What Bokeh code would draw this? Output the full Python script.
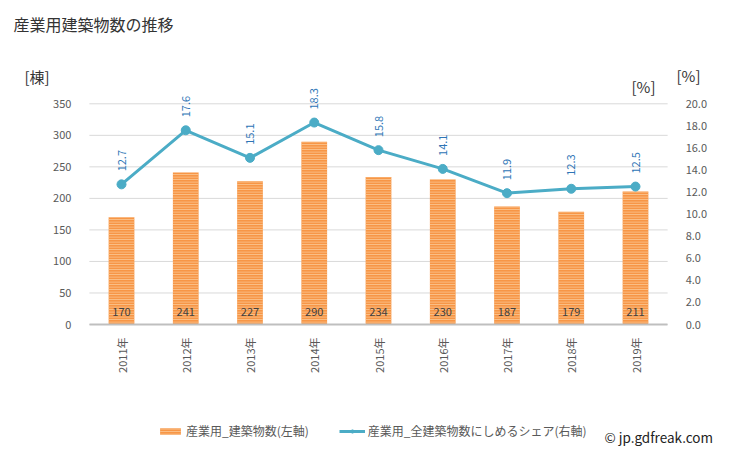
import math
from bokeh.plotting import figure
from bokeh.models import (ColumnDataSource, Range1d, LinearAxis, Label, Legend, LegendItem,
                          FixedTicker, NumeralTickFormatter)
from bokeh.core.properties import value
from bokeh.embed import file_html
from bokeh.resources import INLINE

years = ["2011年", "2012年", "2013年", "2014年", "2015年", "2016年", "2017年", "2018年", "2019年"]
buildings = [170, 241, 227, 290, 234, 230, 187, 179, 211]
share = [12.7, 17.6, 15.1, 18.3, 15.8, 14.1, 11.9, 12.3, 12.5]
left_ticks = [0, 50, 100, 150, 200, 250, 300, 350]
right_ticks = [0, 2, 4, 6, 8, 10, 12, 14, 16, 18, 20]

FONT = "Noto Sans CJK JP"
GRAY = "#595959"
LINE = "#4BACC6"
LBL = "#2E75B6"

W, H = 729, 450
# frame covers the whole canvas; the plotting area spans x 89..667, y 103..324 px
PX = 64.25                      # px per category
X0 = -121 / PX                  # range start so that category 0 sits at 121 px
PY = 220.7 / 350                # px per building
PR = 220.7 / 20                 # px per percent
Y0 = 324                        # pixel row of the zero line

xs = list(range(len(years)))
src = ColumnDataSource(dict(
    x=xs, b=buildings, s=share,
    bl=[str(v) for v in buildings],
    sl=[f"{v:.1f}" for v in share],
))

p = figure(width=W, height=H,
           x_range=Range1d(X0, X0 + W / PX),
           y_range=Range1d(-(H - Y0) / PY, Y0 / PY),
           output_backend="svg", toolbar_location=None,
           x_axis_location=None, y_axis_location=None,
           min_border=0, min_border_left=0, min_border_right=0,
           min_border_top=0, min_border_bottom=0)
p.outline_line_color = None
p.background_fill_color = "white"
p.border_fill_color = "white"
p.grid.visible = False
p.extra_y_ranges = {"pct": Range1d(-(H - Y0) / PR, Y0 / PR)}

# grid lines at the left-axis ticks, spanning the plot area only
p.segment(x0=[-0.5] * len(left_ticks), x1=[8.5] * len(left_ticks), y0=left_ticks, y1=left_ticks,
          line_color="#D9D9D9", line_width=1)

bars = p.vbar(x="x", top="b", width=0.4, source=src, fill_color="#F79646", line_color=None,
              hatch_pattern="horizontal_line", hatch_color="#FBC794", hatch_scale=2.5, hatch_weight=1)
p.text(x="x", y=20, text="bl", source=src, text_align="center", text_baseline="middle",
       text_font=value(FONT), text_font_size="11px", text_color="#404040")

ln = p.line(x="x", y="s", source=src, y_range_name="pct", line_color=LINE, line_width=3)
mk = p.scatter(x="x", y="s", source=src, y_range_name="pct", size=9, fill_color=LINE, line_color=LINE)
p.text(x="x", y="s", text="sl", source=src, y_range_name="pct", angle=math.pi / 2,
       y_offset=-13, text_align="left", text_baseline="middle", text_font=value(FONT),
       text_font_size="11px", text_color=LBL)

# axes (fixed inside the frame)
la = LinearAxis(fixed_location=-0.5, ticker=FixedTicker(ticks=left_ticks), bounds=(0, 350))
ra = LinearAxis(y_range_name="pct", fixed_location=8.5, ticker=FixedTicker(ticks=right_ticks),
                formatter=NumeralTickFormatter(format="0.0"), bounds=(0, 20))
for a in (la, ra):
    a.axis_line_color = None
    a.major_tick_line_color = None
    a.minor_tick_line_color = None
    a.major_label_text_font = FONT
    a.major_label_text_font_size = "11px"
    a.major_label_text_color = GRAY
    a.major_label_standoff = 12
p.add_layout(la, "left")
p.add_layout(ra, "right")

xa = LinearAxis(fixed_location=0, ticker=FixedTicker(ticks=xs), bounds=(-0.5, 8.5),
                major_label_overrides={i: y for i, y in enumerate(years)})
xa.axis_line_color = "#BFBFBF"
xa.axis_line_width = 2
xa.major_tick_line_color = None
xa.minor_tick_line_color = None
xa.major_label_orientation = math.pi / 2
xa.major_label_text_font = FONT
xa.major_label_text_font_size = "11px"
xa.major_label_text_color = GRAY
xa.major_label_standoff = 7
p.add_layout(xa, "below")

# free texts (screen units: from the canvas bottom-left)
def lab(txt, cx, cy, size, color="#333333"):
    p.add_layout(Label(x=cx, y=H - cy, x_units="screen", y_units="screen", text=txt,
                       text_font=FONT, text_font_size=size, text_color=color,
                       text_align="left", text_baseline="middle"))

lab("産業用建築物数の推移", 13, 23, "16px")
lab("[棟]", 24, 76, "15px")
lab("[%]", 631, 86, "15px")
lab("[%]", 676, 75, "15px")
lab("© jp.gdfreak.com", 604, 436, "13.5px", color="#222222")

legend = Legend(items=[LegendItem(label="産業用_建築物数(左軸)", renderers=[bars]),
                       LegendItem(label="産業用_全建築物数にしめるシェア(右軸)", renderers=[ln, mk])],
                orientation="horizontal", location=(157, 11),
                label_text_font=FONT, label_text_font_size="12px", label_text_color=GRAY,
                border_line_color=None, background_fill_alpha=0, spacing=30,
                glyph_width=26, glyph_height=8, label_standoff=3, padding=2, margin=0)
p.add_layout(legend)

open("out.html", "w").write(file_html(p, INLINE))
